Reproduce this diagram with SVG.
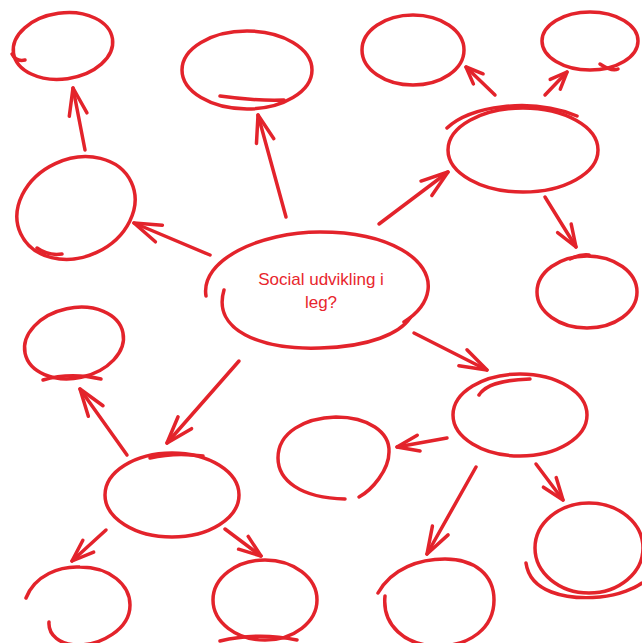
<svg xmlns="http://www.w3.org/2000/svg" width="642" height="643" viewBox="0 0 642 643">
<style>
.s{fill:none;stroke:#e3232b;stroke-width:3.5;stroke-linecap:round;stroke-linejoin:round}
.t{font-family:"Liberation Sans",Arial,sans-serif;font-size:17px;fill:#e8262d;text-anchor:middle}
</style>
<defs>
<marker id="big" markerUnits="userSpaceOnUse" markerWidth="60" markerHeight="60" refX="0" refY="0" orient="auto" overflow="visible">
<path class="s" d="M-27,-9 L0,0 L-27,9"/>
</marker>
<marker id="med" markerUnits="userSpaceOnUse" markerWidth="60" markerHeight="60" refX="0" refY="0" orient="auto" overflow="visible">
<path class="s" d="M-22,-8 L0,0 L-22,8"/>
</marker>
<marker id="sml" markerUnits="userSpaceOnUse" markerWidth="60" markerHeight="60" refX="0" refY="0" orient="auto" overflow="visible">
<path class="s" d="M-17,-7 L0,0 L-17,7"/>
</marker>
</defs>
<rect width="642" height="643" fill="#ffffff"/>
<g id="center">
<path class="s" d="M206,296 C200,260 260,232 320,232 C390,232 432,260 428,290 C426,305 415,315 404,322"/>
<path class="s" d="M224,290 C212,330 260,350 320,348 C370,347 400,333 410,318"/>
<text class="t" x="321" y="285">Social udvikling i</text>
<text class="t" x="321" y="308">leg?</text>
</g>
<g id="n1"><ellipse class="s" cx="63" cy="46" rx="50" ry="33" transform="rotate(-8 63 46)"/><path class="s" d="M12,54 Q16,62 25,60"/></g>
<g id="n2"><ellipse class="s" cx="247" cy="70" rx="65" ry="39"/><path class="s" d="M220,96 Q255,101 284,100"/></g>
<g id="n3"><ellipse class="s" cx="76" cy="208" rx="61" ry="49" transform="rotate(-25 76 208)"/><path class="s" d="M37,248 Q48,256 62,254"/></g>
<g id="n4"><ellipse class="s" cx="413" cy="50" rx="51" ry="35"/></g>
<g id="n5"><ellipse class="s" cx="590" cy="41" rx="48" ry="29"/><path class="s" d="M600,64 Q612,72 618,69"/></g>
<g id="n6"><ellipse class="s" cx="523" cy="150" rx="75" ry="42"/><path class="s" d="M447,128 C470,106 530,97 577,116"/></g>
<g id="n7"><ellipse class="s" cx="587" cy="292" rx="50" ry="36"/><path class="s" d="M570,259 Q580,254 589,255"/></g>
<g id="n9"><ellipse class="s" cx="74" cy="343" rx="50" ry="35" transform="rotate(-12 74 343)"/><path class="s" d="M43,380 Q70,372 101,379"/></g>
<g id="n10"><ellipse class="s" cx="172" cy="495" rx="67" ry="42"/><path class="s" d="M150,458 Q175,452 203,456"/></g>
<g id="n11"><path class="s" d="M26,598 C35,575 60,566 80,567 C110,567 130,585 130,605 C130,630 100,645 78,645 C60,645 48,635 49,622"/></g>
<g id="n12"><ellipse class="s" cx="265" cy="600" rx="52" ry="40"/><path class="s" d="M220,641 Q258,632 297,640"/></g>
<g id="n13"><path class="s" d="M345,499 C300,498 278,480 278,458 C278,432 305,418 336,417 C368,417 390,432 389,452 C389,470 372,490 359,497"/></g>
<g id="n14"><ellipse class="s" cx="520" cy="415" rx="67" ry="41"/><path class="s" d="M479,395 C485,385 500,380 530,379"/></g>
<g id="n15"><ellipse class="s" cx="589" cy="548" rx="54" ry="45"/><path class="s" d="M526,563 C530,592 565,600 600,597 C620,595 635,588 642,583"/></g>
<g id="n16"><path class="s" d="M378,593 C392,568 420,559 445,559 C475,559 494,575 494,600 C494,628 470,646 438,646 C405,646 382,625 385,596"/></g>
<g id="connectors">
<line class="s" x1="210" y1="255" x2="134" y2="223" marker-end="url(#big)"/>
<line class="s" x1="85" y1="150" x2="73" y2="88" marker-end="url(#big)"/>
<line class="s" x1="286" y1="217" x2="258" y2="115" marker-end="url(#big)"/>
<line class="s" x1="379" y1="224" x2="448" y2="172" marker-end="url(#big)"/>
<line class="s" x1="495" y1="95" x2="466" y2="67" marker-end="url(#sml)"/>
<line class="s" x1="545" y1="95" x2="567" y2="72" marker-end="url(#sml)"/>
<line class="s" x1="545" y1="197" x2="576" y2="247" marker-end="url(#med)"/>
<line class="s" x1="414" y1="333" x2="487" y2="370" marker-end="url(#big)"/>
<line class="s" x1="447" y1="438" x2="397" y2="447" marker-end="url(#med)"/>
<line class="s" x1="476" y1="467" x2="427" y2="554" marker-end="url(#big)"/>
<line class="s" x1="536" y1="464" x2="563" y2="500" marker-end="url(#med)"/>
<line class="s" x1="239" y1="361" x2="167" y2="443" marker-end="url(#big)"/>
<line class="s" x1="127" y1="455" x2="80" y2="389" marker-end="url(#big)"/>
<line class="s" x1="106" y1="530" x2="72" y2="561" marker-end="url(#med)"/>
<line class="s" x1="225" y1="529" x2="261" y2="556" marker-end="url(#med)"/>
</g>
</svg>
